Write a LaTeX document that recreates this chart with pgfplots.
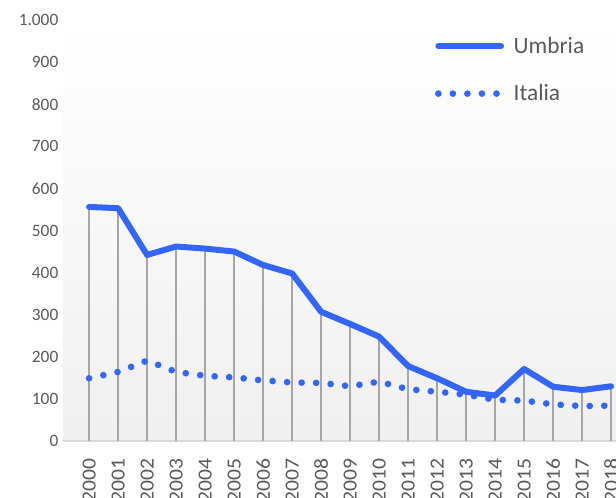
\documentclass[border=0pt]{standalone}
\usepackage{pgfplots}
\pgfplotsset{compat=1.18}
\usepackage{pgfplotstable}
\usepackage{fontspec}
\setmainfont{Carlito}
\definecolor{serie}{RGB}{51,102,255}
\definecolor{testo}{RGB}{89,89,89}

\pgfplotstableread{
x umbria italia
0 556 149
1 553 164
2 442 191
3 462 164
4 457 155
5 450 151
6 418 144
7 398 139
8 307 138
9 278 130
10 248 141
11 178 123
12 149 117
13 117 110
14 108 98
15 171 96
16 129 87
17 121 83
18 130 84
}\dati

\pgfplotsset{
  lunga/.style={legend image code/.code={\draw[##1] (0pt,0pt) -- (47pt,0pt);}},
}

\begin{document}
\begin{tikzpicture}
\begin{axis}[
  scale only axis,
  width=414.75pt, height=315.75pt,
  xmin=-0.9, xmax=18.17,
  ymin=0, ymax=1000,
  ytick={0,100,...,1000},
  xtick={0,...,18},
  xticklabels={2000,2001,2002,2003,2004,2005,2006,2007,2008,2009,2010,2011,2012,2013,2014,2015,2016,2017,2018},
  x tick label style={rotate=90, xscale=1.08, anchor=east, font=\fontsize{15}{17}\selectfont, text=testo, xshift=-9pt},
  y tick label style={font=\fontsize{13}{15}\selectfont, text=testo},
  /pgf/number format/.cd, 1000 sep={.}, assume math mode=true, /pgfplots/.cd,
  axis x line*=bottom, axis y line*=left,
  y axis line style={draw=none},
  x axis line style={draw=black!15, line width=1.5pt, -},
  tick style={draw=none},
  axis background/.style={top color=white, bottom color=black!6},
  legend style={draw=none, fill=none, at={(0.665,0.973)}, anchor=north west,
    font=\fontsize{17.5}{20}\selectfont, text=testo, row sep=18pt, column sep=5pt},
  legend cell align=left,
]
\addplot[ycomb, draw=black!35, line width=1.1pt, forget plot] table[x=x, y=umbria] {\dati};
\addplot[serie, line width=4.5pt, line join=round, line cap=round, lunga] table[x=x, y=umbria] {\dati};
\addlegendentry{Umbria}
\addplot[serie, line width=5pt, line cap=round, dash pattern=on 0pt off 10.9pt, lunga] table[x=x, y=italia] {\dati};
\addlegendentry{Italia}
\end{axis}
\pgfresetboundingbox
\path[use as bounding box] ([xshift=-47.25pt, yshift=-42pt]current axis.south west) rectangle ([yshift=15pt]current axis.north east);
\end{tikzpicture}
\end{document}
